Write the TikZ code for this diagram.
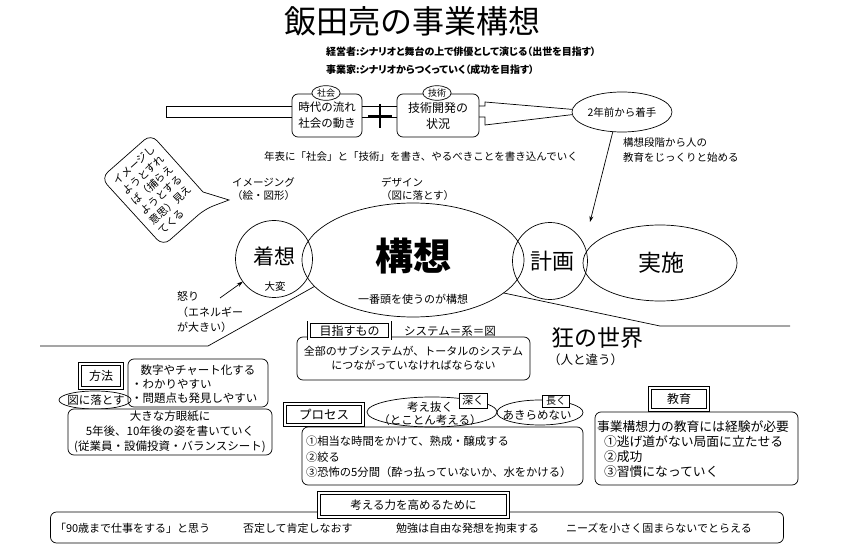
\documentclass[tikz,border=0pt]{standalone}
\usepackage{fontspec}
\setmainfont{Noto Sans CJK JP}
\newfontfamily\pfont[RawFeature=+palt]{Noto Sans CJK JP}
\usetikzlibrary{shapes.geometric,arrows.meta}
\newcommand\fsz[2]{\fontsize{#1pt}{#2pt}\selectfont}
\begin{document}
\begin{tikzpicture}[x=1pt,y=-1pt,line width=0.7pt,
  every node/.style={inner sep=0pt, outer sep=0pt},
  rbox/.style={draw, rounded corners=6pt, fill=white},
  frame/.style={draw, double, double distance=2pt, line width=0.7pt, fill=white},
  ell/.style={draw, ellipse, inner sep=0pt},
  tag/.style={draw, ellipse, fill=white, inner sep=1pt, font=\fsz{9}{10}},
  arr/.style={-{Stealth[length=6pt,width=4pt]}}]
\fill[white] (0,0) rectangle (844,556);
\useasboundingbox (0,0) rectangle (844,556);

% title
\node[font=\fsz{32}{36}] (title) at (412,21) {飯田亮の事業構想};
\node[anchor=west, font=\pfont\bfseries\fsz{10}{11}] (sub1) at (326,52) {経営者:シナリオと舞台の上で俳優として演じる（出世を目指す）};
\node[anchor=west, font=\pfont\bfseries\fsz{10}{11}] (sub2) at (326,70) {事業家:シナリオからつくっていく（成功を目指す）};

% timeline
\node[rbox, minimum width=70pt, minimum height=43pt, align=center, font=\fsz{11.5}{16}] (box1) at (327,115.5) {時代の流れ\\社会の動き};
\node[tag] (shakai) at (326,93) {社会};
\node[rbox, minimum width=82pt, minimum height=43pt, align=center, font=\fsz{12}{16}] (box2) at (438,115.5) {技術開発の\\状況};
\node[tag] (gijutsu) at (437,93) {技術};
\node[ell, minimum width=100pt, minimum height=40pt, font=\fsz{10.5}{12}] (e2) at (622,112) {2年前から着手};
\coordinate (b1) at (166,106);
\coordinate (b2) at (166,117);
\draw (box1.west |- b1) -- (b1) -- (b2) -- (box1.west |- b2);
\draw (box1.east |- b1) -- (box2.west |- b1);
\draw (box1.east |- b2) -- (box2.west |- b2);
\draw[line width=2.6pt] (380,104) -- (380,128) (368,116) -- (392,116);
\coordinate (f1) at (485,102);
\coordinate (f2) at (485,125);
\draw (box2.east |- b1) -- (f1 |- b1) -- (f1) -- (e2.177);
\draw (box2.east |- b2) -- (f2 |- b2) -- (f2) -- (e2.183);

\node[font=\fsz{10.5}{12}] (nenpyo) at (421,157) {年表に「社会」と「技術」を書き、やるべきことを書き込んでいく};
\node[anchor=west, align=left, font=\fsz{10.5}{15}] (edu) at (623,150) {構想段階から人の\\教育をじっくりと始める};
\coordinate (arrEnd) at (590,222);
\draw[arr] (e2.245) -- (arrEnd);

% speech bubble
\draw[rounded corners=9pt] (203,192) -- (151,134) -- (101,178) -- (163,246) -- (205,209) [sharp corners] -- (229,200) -- (203,192);
\node[rotate=42, align=left, font=\fsz{10.5}{13.5}] (bubbleT) at (157,190) {イメージし\\ようとすれ\\ば（捕らえ\\ようとする\\意思）見え\\てくる};

\node[anchor=west, align=left, font=\fsz{10.5}{13.5}] (imaging) at (232,189) {イメージング\\（絵・図形）};
\node[anchor=west, align=left, font=\fsz{10.5}{13.5}] (design) at (381,189) {デザイン\\（図に落とす）};

% main chain
\node[ell, minimum width=77pt, minimum height=77pt] (chaku) at (274,259) {};
\node[font=\fsz{21}{24}] (chakuT) at (274,256) {着想};
\node[font=\fsz{10.5}{12}] (taihen) at (275,287) {大変};
\node[ell, minimum width=222pt, minimum height=114pt] (kousou) at (413,260) {};
\node[font=\bfseries\fsz{38}{42}] (kousouT) at (413,256) {構想};
\node[font=\fsz{11}{13}] (ichiban) at (413,299) {一番頭を使うのが構想};
\node[ell, minimum width=75pt, minimum height=77pt] (keikaku) at (550,261) {};
\node[font=\fsz{22}{24}] (keikakuT) at (552,261) {計画};
\node[ell, minimum width=154pt, minimum height=76pt] (jisshi) at (660,263) {};
\node[font=\fsz{23}{26}] (jisshiT) at (661,263) {実施};

\node[anchor=west, align=left, font=\fsz{11}{15.5}] (ikari) at (177,312) {怒り\\（エネルギー\\が大きい）};
\coordinate (ikariS) at (220,298);
\draw[arr] (ikariS) -- (chaku.216);

\coordinate (L1) at (208,346);
\coordinate (L2) at (40,346);
\draw (kousou.195) -- (L1) -- (L2);
\coordinate (R1) at (660,326);
\coordinate (R2) at (790,326);
\draw (kousou.340) -- (R1) -- (R2);

\node[anchor=west, font=\fsz{23}{26}] (kyou) at (551,338) {狂の世界};
\node[anchor=west, font=\fsz{12.5}{14}] (hitoto) at (548,360) {（人と違う）};

% left bottom
\node[frame, minimum width=42pt, minimum height=24pt, font=\fsz{12}{14}] (houhou) at (101,376) {方法};
\node[rbox, minimum width=140pt, minimum height=48pt] (box3) at (198,383) {};
\node[ell, minimum width=72pt, minimum height=18pt] (zu) at (95,400) {};
\node[font=\fsz{11.5}{13}] (zuT) at (96,400) {図に落とす};
\node[font=\fsz{11.5}{13}] (b3l1) at (198,370) {数字やチャート化する};
\node[anchor=west, font=\fsz{11.5}{13}] (b3l2) at (131,384) {・わかりやすい};
\node[anchor=west, font=\fsz{11.5}{13}] (b3l3) at (131,398) {・問題点も発見しやすい};
\node[rbox, minimum width=204pt, minimum height=46pt, align=center, font=\fsz{11.5}{15}] (box4) at (170,432) {大きな方眼紙に\\5年後、10年後の姿を書いていく\\(従業員・設備投資・バランスシート)};

% centre bottom
\node[rbox, minimum width=233pt, minimum height=43pt, align=center, font=\fsz{11}{14}] (box5) at (413.5,358.5) {全部のサブシステムが、トータルのシステム\\につながっていなければならない};
\node[frame, minimum width=81pt, minimum height=16pt, font=\fsz{12}{14}] (mezasu) at (349.5,330.5) {目指すもの};
\node[font=\fsz{11.5}{13}] (system) at (450,331) {システム＝系＝図};

\node[rbox, minimum width=281pt, minimum height=58pt] (box6) at (442.5,456) {};
\node[anchor=west, align=left, font=\fsz{11.3}{15.5}] (b6t) at (306,457) {①相当な時間をかけて、熟成・醸成する\\②絞る\\③恐怖の5分間（酔っ払っていないか、水をかける）};
\node[frame, minimum width=78pt, minimum height=21pt, font=\fsz{12.5}{14}] (process) at (324,414.5) {プロセス};
\node[ell, minimum width=130pt, minimum height=30pt] (kangae) at (432,412) {};
\node[align=center, font=\fsz{11.5}{13}] (kangaeT) at (430,413.5) {考え抜く\\（とことん考える）};
\node[draw, fill=white, minimum width=28pt, minimum height=15pt, font=\fsz{11}{12}] (fukaku) at (473,400.5) {深く};
\node[ell, minimum width=86pt, minimum height=25pt] (akirame) at (540,412.5) {};
\node[font=\fsz{11.5}{13}] (akirameT) at (537,415) {あきらめない};
\node[draw, fill=white, minimum width=27pt, minimum height=12pt, font=\fsz{10}{11}] (nagaku) at (556,401) {長く};

% right bottom
\node[rbox, minimum width=203pt, minimum height=73pt] (box7) at (696.5,448.5) {};
\node[anchor=west, font=\fsz{12.8}{14}] (b7l1) at (597,427) {事業構想力の教育には経験が必要};
\node[anchor=west, align=left, font=\fsz{12.8}{15}] (b7l2) at (604,457) {①逃げ道がない局面に立たせる\\②成功\\③習慣になっていく};
\node[frame, minimum width=58pt, minimum height=22pt, font=\fsz{12}{14}] (kyouiku) at (679,399) {教育};

% bottom
\node[rbox, minimum width=733pt, minimum height=31pt] (box8) at (417,527.5) {};
\node[frame, minimum width=189pt, minimum height=24pt, font=\fsz{11.5}{13}] (kangaeru) at (413.5,505) {考える力を高めるために};
\node[anchor=west, font=\fsz{11}{12}] (t1) at (55,528) {「90歳まで仕事をする」と思う};
\node[anchor=west, font=\fsz{11}{12}] (t2) at (243,528) {否定して肯定しなおす};
\node[anchor=west, font=\fsz{11}{12}] (t3) at (396,528) {勉強は自由な発想を拘束する};
\node[anchor=west, font=\fsz{11}{12}] (t4) at (566,528) {ニーズを小さく固まらないでとらえる};
\end{tikzpicture}
\end{document}
